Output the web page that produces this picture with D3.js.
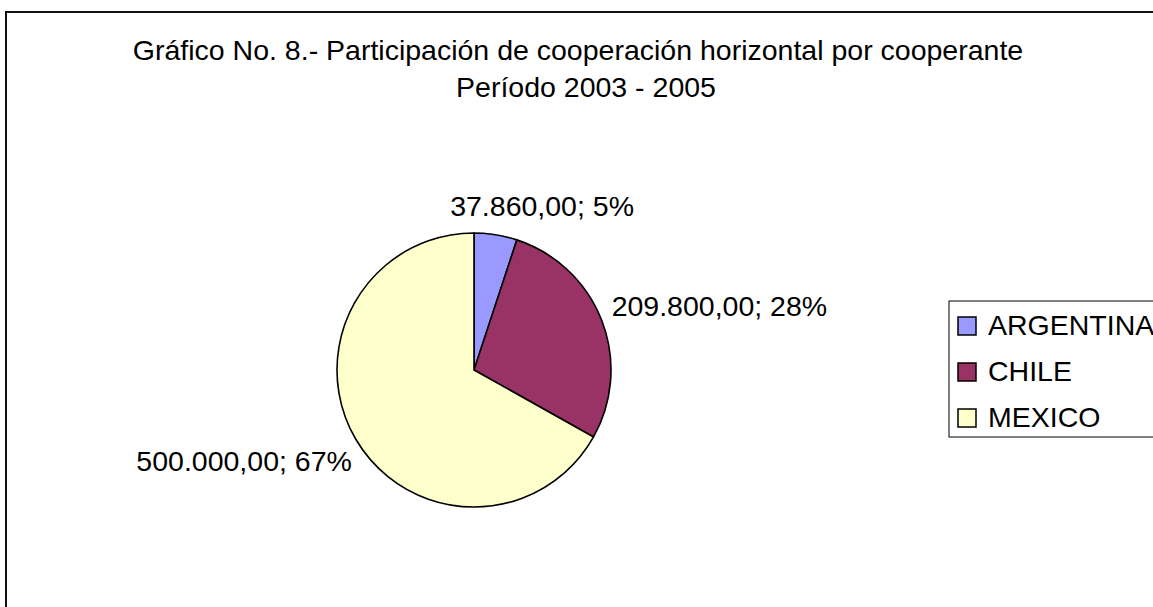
<!DOCTYPE html>
<html>
<head>
<meta charset="utf-8">
<script src="https://d3js.org/d3.v7.min.js"></script>
<style>
  body { margin: 0; background: #fff; }
  text { font-family: "Liberation Sans", Arial, sans-serif; fill: #000; }
</style>
</head>
<body>
<div id="chart"></div>
<script>
// data
const countries = ["ARGENTINA", "CHILE", "MEXICO"];
const amounts = [37860, 209800, 500000];
const colors = ["#9999FF", "#993366", "#FFFFCC"];
const titleLines = ["Gráfico No. 8.- Participación de cooperación horizontal por cooperante",
                    "Período 2003 - 2005"];

// size of plot
const width = 1153;
const height = 607;
const fontSize = 28.5;

const svg = d3.select("#chart")
    .append("svg")
    .attr("width", width)
    .attr("height", height);

// chart border (runs past the right and bottom edge)
svg.append("rect")
    .attr("x", 6)
    .attr("y", 12)
    .attr("width", width + 10)
    .attr("height", height + 10)
    .attr("fill", "#fff")
    .attr("stroke", "#111")
    .attr("stroke-width", 2);

// title
svg.append("g")
    .selectAll("text")
    .data(titleLines)
    .enter().append("text")
        .attr("x", (d, i) => i === 0 ? 578 : 586)
        .attr("y", (d, i) => 60 + i * 37)
        .attr("text-anchor", "middle")
        .attr("font-size", fontSize)
        .text(d => d);

// pie
const cx = 474, cy = 370, r = 137;
const total = d3.sum(amounts);
const slices = d3.pie().sort(null).value(d => d.value)(
    countries.map((c, i) => ({name: c, value: amounts[i], color: colors[i]})));
const arc = d3.arc().innerRadius(0).outerRadius(r);

const pieG = svg.append("g").attr("transform", `translate(${cx},${cy})`);
pieG.selectAll("path")
    .data(slices)
    .enter().append("path")
        .attr("d", arc)
        .attr("fill", d => d.data.color)
        .attr("stroke", "#000")
        .attr("stroke-width", 1.6)
        .attr("stroke-linejoin", "round");

// labels: "value; pct" in es format
const es = d3.formatLocale({decimal: ",", thousands: ".", grouping: [3]});
const fmtVal = es.format(",.2f");
const labelText = d => fmtVal(d.data.value) + "; " + Math.round(d.data.value / total * 100) + "%";

const labelRadius = 152;
pieG.selectAll("text")
    .data(slices)
    .enter().append("text")
        .attr("font-size", fontSize)
        .each(function(d) {
            const a = (d.startAngle + d.endAngle) / 2;
            const s = Math.sin(a), c = -Math.cos(a);
            let x = labelRadius * s, y = labelRadius * c;
            let anchor = "middle";
            if (s > 0.5) anchor = "start";
            else if (s < -0.5) anchor = "end";
            // vertical placement: above for top, below for bottom
            let dy = "0.35em";
            if (c < -0.8) { dy = "-0.15em"; x += 44; }
            else if (c > 0.3) { dy = "0.85em"; x += 9; }
            else { y -= 9; x -= 4; }
            d3.select(this)
                .attr("x", x)
                .attr("y", y)
                .attr("dy", dy)
                .attr("text-anchor", anchor)
                .text(labelText(d));
        });

// legend
const legend = svg.append("g").attr("transform", "translate(949,301)");
legend.append("rect")
    .attr("width", 220)
    .attr("height", 136)
    .attr("fill", "#fff")
    .attr("stroke", "#000")
    .attr("stroke-width", 1);

const item = legend.selectAll("g")
    .data(slices)
    .enter().append("g")
        .attr("transform", (d, i) => `translate(9,${34 + i * 46})`);

item.append("rect")
    .attr("y", -18)
    .attr("width", 18)
    .attr("height", 18)
    .attr("fill", d => d.data.color)
    .attr("stroke", "#000")
    .attr("stroke-width", 1.5);

item.append("text")
    .attr("x", 30)
    .attr("font-size", fontSize)
    .text(d => d.data.name);
</script>
</body>
</html>
